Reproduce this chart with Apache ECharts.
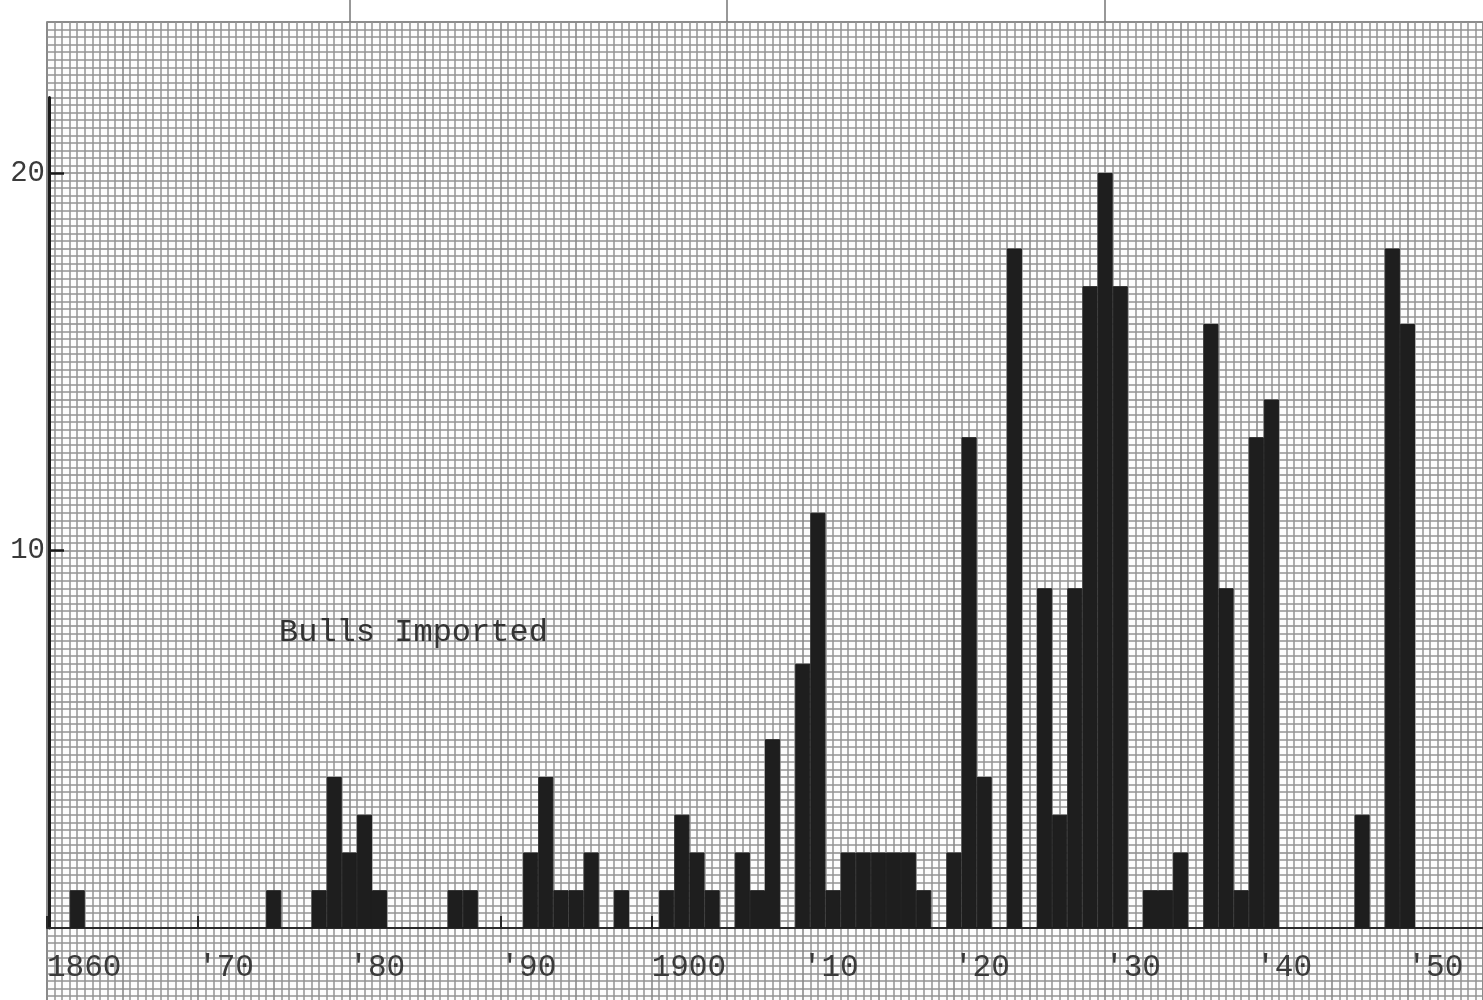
<!DOCTYPE html>
<html>
<head>
<meta charset="utf-8">
<title>Bulls Imported</title>
<script src="https://cdn.jsdelivr.net/npm/echarts@6/dist/echarts.min.js"></script>
<style>
  html, body { margin: 0; padding: 0; background: #fff; }
  .forchart { width: 1483px; height: 1000px; }
</style>
</head>
<body>
<div class="forchart"></div>
<script>
// bulls imported per year
var years = [1862, 1875, 1878, 1879, 1880, 1881, 1882, 1887, 1888, 1892, 1893, 1894, 1895, 1896, 1898,
  1901, 1902, 1903, 1904, 1906, 1907, 1908, 1910, 1911, 1912, 1913, 1914, 1915, 1916, 1917, 1918,
  1920, 1921, 1922, 1924, 1926, 1927, 1928, 1929, 1930, 1931, 1933, 1934, 1935, 1937, 1938, 1939,
  1940, 1941, 1947, 1949, 1950];
var counts = [1, 1, 1, 4, 2, 3, 1, 1, 1, 2, 4, 1, 1, 2, 1,
  1, 3, 2, 1, 2, 1, 5, 7, 11, 1, 2, 2, 2, 2, 2, 1,
  2, 13, 4, 18, 9, 3, 9, 17, 20, 17, 1, 1, 2, 16, 9, 1,
  13, 14, 3, 18, 16];

var tickYears = [1860, 1870, 1880, 1890, 1900, 1910, 1920, 1930, 1940, 1950];
var tickLabels = ["1860", "'70", "'80", "'90", "1900", "'10", "'20", "'30", "'40", "'50"];
var sheetMarks = [1880, 1905, 1930];
var yTicks = [10, 20];

(function(){
  var myChart = echarts.init(document.querySelector('.forchart'));
  var font = "'Liberation Mono', 'DejaVu Sans Mono', monospace";
  var ink = "#2a2a2a";

  var data = years.map(function (y, i) {
    return [y, counts[i]];
  });

  var labelMap = {};
  tickYears.forEach(function (y, i) { labelMap[y] = tickLabels[i]; });

  var option = {
    backgroundColor: "#fff",
    animation: false,
    title: {
      text: "Bulls Imported",
      left: 274,
      top: 612,
      textStyle: {
        fontFamily: font,
        fontSize: 32,
        fontWeight: "normal",
        color: "#333",
      },
    },
    grid: [
      {
        // the graph paper, runs past the axes to the sheet edges
        left: 47,
        top: 22,
        width: 1436,
        height: 981.5,
        outerBoundsMode: "none",
        show: true,
        backgroundColor: "#fcfcfc",
        borderColor: "#6a6a6a",
        borderWidth: 1.5,
      },
      {
        // the drawn chart: 0 to 22 on y, base line at zero
        left: 47,
        top: 97.5,
        width: 1436,
        height: 830.5,
        outerBoundsMode: "none",
      },
    ],
    xAxis: [
      {
        // fine ruling
        type: "value",
        gridIndex: 0,
        min: 1860,
        max: 1955,
        interval: 5,
        axisLine: { show: false, onZero: false },
        axisTick: { show: false },
        axisLabel: { show: false },
        splitLine: { show: true, lineStyle: { color: "#8a8a8a", width: 1.6 } },
        minorTick: { show: false, splitNumber: 10 },
        minorSplitLine: { show: true, lineStyle: { color: "#939393", width: 1.5 } },
      },
      {
        // base line with decade marks
        type: "value",
        gridIndex: 1,
        position: "bottom",
        min: 1860,
        max: 1955,
        interval: 5,
        axisLine: { show: true, onZero: false, lineStyle: { color: ink, width: 2 } },
        axisTick: {
          show: true,
          inside: true,
          length: 12,
          customValues: tickYears,
          lineStyle: { color: ink, width: 2 },
        },
        axisLabel: {
          show: true,
          customValues: tickYears,
          align: "left",
          margin: 24,
          fontFamily: font,
          fontSize: 31,
          color: "#3a3a3a",
          formatter: function (v) { return labelMap[v] || ""; },
        },
        splitLine: { show: false },
      },
      {
        // marks on the sheet edge above the paper
        type: "value",
        gridIndex: 0,
        position: "top",
        min: 1860,
        max: 1955,
        interval: 5,
        axisLine: { show: false, onZero: false },
        axisTick: {
          show: true,
          inside: false,
          length: 22,
          customValues: sheetMarks,
          lineStyle: { color: "#777", width: 1.5 },
        },
        axisLabel: { show: false },
        splitLine: { show: false },
      },
    ],
    yAxis: [
      {
        type: "value",
        gridIndex: 0,
        min: -2,
        max: 24,
        interval: 2,
        axisLine: { show: false, onZero: false },
        axisTick: { show: false },
        axisLabel: { show: false },
        splitLine: { show: true, lineStyle: { color: "#8a8a8a", width: 1.6 } },
        minorTick: { show: false, splitNumber: 10 },
        minorSplitLine: { show: true, lineStyle: { color: "#939393", width: 1.5 } },
      },
      {
        type: "value",
        gridIndex: 1,
        min: 0,
        max: 22,
        interval: 1,
        offset: -2,
        axisLine: { show: true, onZero: false, lineStyle: { color: "#1a1a1a", width: 3 } },
        axisTick: {
          show: true,
          inside: true,
          length: 15,
          customValues: yTicks,
          lineStyle: { color: "#1a1a1a", width: 2.5 },
        },
        axisLabel: {
          show: true,
          customValues: yTicks,
          margin: 4,
          fontFamily: font,
          fontSize: 29,
          color: "#3a3a3a",
        },
        splitLine: { show: false },
      },
    ],
    series: [
      {
        name: "Bulls Imported",
        type: "bar",
        xAxisIndex: 1,
        yAxisIndex: 1,
        barWidth: "100%",
        itemStyle: { color: "#1e1e1e", borderColor: "#1e1e1e", borderWidth: 1 },
        data: data,
      },
    ],
  };
  myChart.setOption(option);
  window.addEventListener("resize", function() {
    myChart.resize();
  });
})();
</script>
</body>
</html>
